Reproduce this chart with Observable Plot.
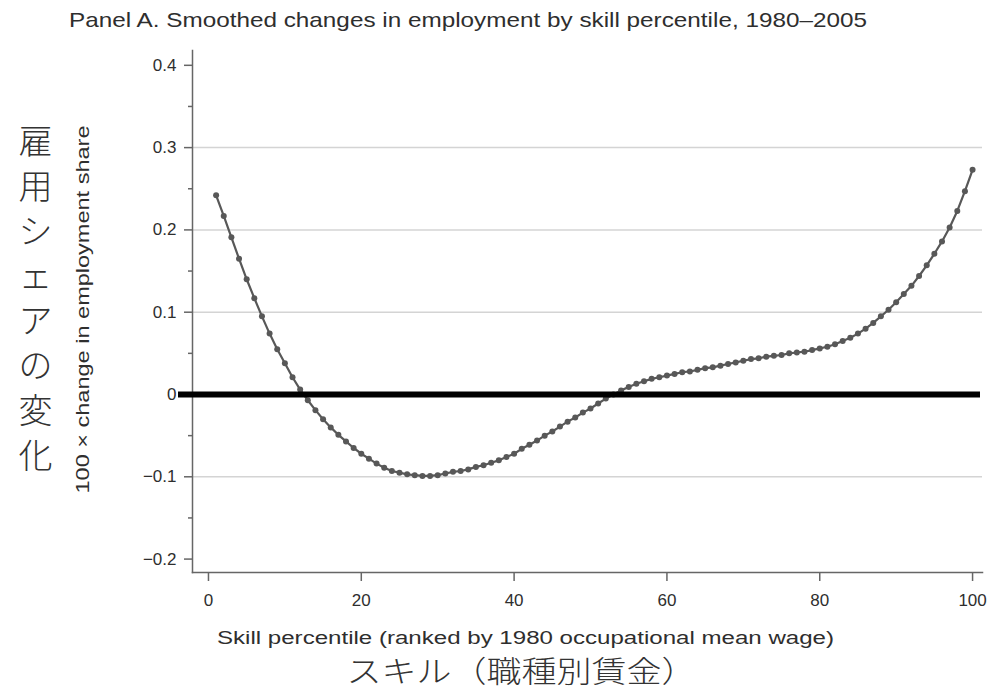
<!DOCTYPE html>
<html>
<head>
<meta charset="utf-8">
<script src="https://cdn.jsdelivr.net/npm/d3@7"></script>
<script src="https://cdn.jsdelivr.net/npm/@observablehq/plot@0.6"></script>
<style>
  body { margin: 0; background: #fff; }
  #wrap { position: relative; width: 987px; height: 690px; overflow: hidden; background: #fff; }
  #title { height: 40px; font-family: "Liberation Sans", Arial, sans-serif; font-size: 21px; color: #2e2e2e;
           white-space: nowrap; padding-left: 69px; line-height: 40px; box-sizing: border-box; }
  #title span { display: inline-block; transform-origin: left center; }
</style>
</head>
<body>
<div id="wrap">
  <div id="title"><span id="titleText"></span></div>
  <div id="chart"></div>
</div>
<script>
// ---- data ----
const titleText = "Panel A. Smoothed changes in employment by skill percentile, 1980–2005";
const xLabel = "Skill percentile (ranked by 1980 occupational mean wage)";
const xLabelJa = "スキル（職種別賃金）";
const yLabel = "100 × change in employment share";
const yLabelJa = "雇用シェアの変化";

const skillPercentile = [
  1,2,3,4,5,6,7,8,9,10,11,12,13,14,15,16,17,18,19,20,
  21,22,23,24,25,26,27,28,29,30,31,32,33,34,35,36,37,38,39,40,
  41,42,43,44,45,46,47,48,49,50,51,52,53,54,55,56,57,58,59,60,
  61,62,63,64,65,66,67,68,69,70,71,72,73,74,75,76,77,78,79,80,
  81,82,83,84,85,86,87,88,89,90,91,92,93,94,95,96,97,98,99,100
];
const employmentChange = [
  0.242,0.217,0.191,0.165,0.140,0.117,0.095,0.074,0.055,0.038,
  0.021,0.006,-0.007,-0.019,-0.030,-0.040,-0.049,-0.057,-0.065,-0.072,
  -0.078,-0.084,-0.089,-0.093,-0.095,-0.097,-0.098,-0.099,-0.099,-0.098,
  -0.096,-0.094,-0.093,-0.091,-0.088,-0.086,-0.083,-0.080,-0.076,-0.072,
  -0.066,-0.061,-0.056,-0.050,-0.045,-0.039,-0.033,-0.028,-0.022,-0.017,
  -0.011,-0.005,0.000,0.005,0.009,0.013,0.016,0.019,0.021,0.023,
  0.025,0.027,0.028,0.030,0.032,0.033,0.035,0.037,0.039,0.041,
  0.043,0.044,0.046,0.047,0.048,0.050,0.051,0.052,0.054,0.056,
  0.058,0.061,0.065,0.069,0.074,0.080,0.087,0.095,0.103,0.112,
  0.122,0.132,0.144,0.157,0.171,0.186,0.203,0.223,0.247,0.273
];

const xTicks = [0, 20, 40, 60, 80, 100];
const yMajorTicks = [-0.2, -0.1, 0, 0.1, 0.2, 0.3, 0.4];
const yMinorTicks = [-0.15, -0.05, 0.05, 0.15, 0.25, 0.35];
const yGridLines = [-0.1, 0.1, 0.2, 0.3];
const zeroLine = [0];

const points = skillPercentile.map((p, i) => ({p, v: employmentChange[i]}));

// ---- chart ----
const FONT = '"Liberation Sans", Arial, Helvetica, sans-serif';
const JFONT = '"Noto Sans CJK JP", "Noto Sans CJK SC", sans-serif';
const fmtY = d => d === 0 ? "0" : d3.format(".1f")(d).replace("-", "−");

const chart = Plot.plot({
  width: 987,
  height: 650,
  marginTop: 10,
  marginBottom: 118,
  marginLeft: 192,
  marginRight: 5,
  style: {fontFamily: FONT, fontSize: "16px", color: "#333", background: "#fff", overflow: "visible"},
  x: {domain: [-2.09, 101.3], axis: null},
  y: {domain: [-0.2163, 0.418], axis: null},
  marks: [
    Plot.gridY(yGridLines, {stroke: "#d4d4d4", strokeOpacity: 1, strokeWidth: 1.5}),
    Plot.frame({anchor: "left", stroke: "#666", strokeWidth: 1.5}),
    Plot.frame({anchor: "bottom", stroke: "#666", strokeWidth: 1.5}),
    Plot.axisY(yMajorTicks, {anchor: "left", tickSize: 8, tickPadding: 8, tickFormat: fmtY,
      stroke: "#666", strokeWidth: 1.5, fill: "#2e2e2e", fontSize: 17, label: null}),
    Plot.axisY(yMinorTicks, {anchor: "left", tickSize: 4, tickFormat: () => "",
      stroke: "#666", strokeWidth: 1.5, label: null}),
    Plot.axisX(xTicks, {anchor: "bottom", tickSize: 9, tickPadding: 12, stroke: "#666",
      strokeWidth: 1.5, fill: "#2e2e2e", fontSize: 17, label: null}),
    Plot.line(points, {x: "p", y: "v", stroke: "#585858", strokeWidth: 2.2}),
    Plot.dot(points, {x: "p", y: "v", r: 3, fill: "#585858", stroke: "none"}),
    Plot.ruleY(zeroLine, {stroke: "#000", strokeWidth: 6, insetLeft: -14, insetRight: 2}),
    Plot.text([xLabel], {frameAnchor: "bottom", dx: -62, dy: 66, fontSize: 17.5, fill: "#2e2e2e",
      lineAnchor: "middle", className: "xlab"}),
    Plot.text([xLabelJa], {frameAnchor: "bottom", dx: -66, dy: 100, fontSize: 30, fill: "#333",
      fontFamily: JFONT, fontWeight: 300, lineAnchor: "middle", className: "xlabja"}),
    Plot.text([yLabel], {frameAnchor: "left", rotate: -90, dx: -109, dy: -2, fontSize: 18, fill: "#2e2e2e",
      lineAnchor: "middle", className: "ylab"}),
    Plot.text([yLabelJa.split("").join("\n")], {frameAnchor: "left", dx: -174, dy: -15, fontSize: 34,
      lineHeight: 1.32, fill: "#333", fontFamily: JFONT, fontWeight: 300, lineAnchor: "middle"})
  ]
});
document.getElementById("chart").appendChild(chart);

// stretch selected labels to the lengths seen in the reference
function fitText(cls, len) {
  chart.querySelectorAll("g." + cls + " text").forEach(t => {
    t.setAttribute("text-anchor", "start");
    t.setAttribute("x", -len / 2);
    t.setAttribute("textLength", len);
    t.setAttribute("lengthAdjust", "spacingAndGlyphs");
  });
}
fitText("xlab", 617);
fitText("ylab", 368);
fitText("xlabja", 350);

const ts = document.getElementById("titleText");
ts.textContent = titleText;
const w = ts.getBoundingClientRect().width;
ts.style.transform = `scaleX(${798 / w})`;
</script>
</body>
</html>
